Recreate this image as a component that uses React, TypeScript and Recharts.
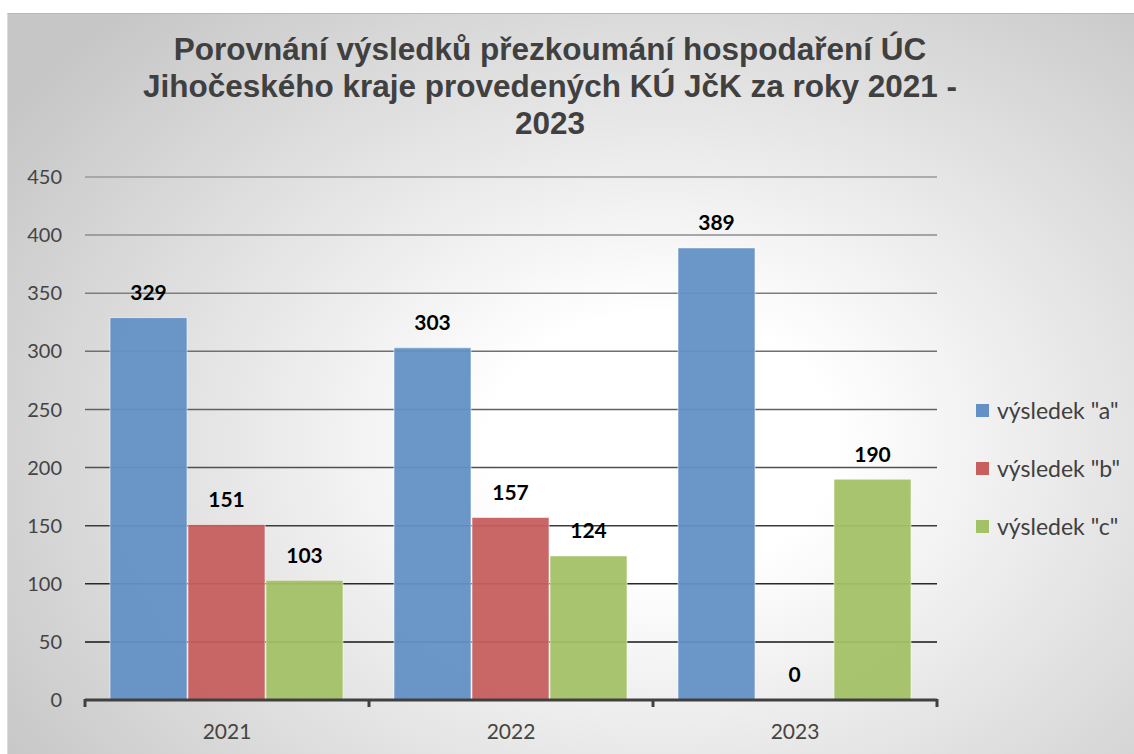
import React from "react";
import {
  BarChart,
  Bar,
  XAxis,
  YAxis,
  CartesianGrid,
  LabelList,
  ReferenceLine,
} from "recharts";

// values
const years = ["2021", "2022", "2023"];
const resultA = [329, 303, 389];
const resultB = [151, 157, 0];
const resultC = [103, 124, 190];
const yTicks = [0, 50, 100, 150, 200, 250, 300, 350, 400, 450];

const titleLines = [
  "Porovnání výsledků přezkoumání hospodaření ÚC",
  "Jihočeského kraje provedených KÚ JčK za roky 2021 -",
  "2023",
];

const seriesNames = ['výsledek "a"', 'výsledek "b"', 'výsledek "c"'];
const seriesKeys = ["a", "b", "c"];
const colors = ["#6390c5", "#c65f5e", "#a3c167"];

const data = years.map((year, i) => ({
  year,
  a: resultA[i],
  b: resultB[i],
  c: resultC[i],
}));

const FONT = "Lato, 'Open Sans', sans-serif";
const AXIS = "#404040";

// bold value above each bar
const renderValue = (props: any) => {
  const vb = props.viewBox ?? props;
  const x = vb.x + vb.width / 2;
  const y = vb.y + Math.min(vb.height, 0) - 26;
  return (
    <text
      x={x}
      y={y}
      textAnchor="middle"
      dominantBaseline="central"
      fontFamily={FONT}
      fontWeight={700}
      fontSize={21}
      fill="#000"
    >
      {String(props.value)}
    </text>
  );
};

// year label plus the tick marks on the category edges
const YearTick = (props: any) => {
  const { x, y, payload, index, visibleTicksCount, width } = props;
  const half = payload.offset ?? width / (2 * visibleTicksCount);
  const last = index === visibleTicksCount - 1;
  return (
    <g>
      <line x1={x - half} y1={y - 1} x2={x - half} y2={y + 7} stroke={AXIS} strokeWidth={3} />
      {last && <line x1={x + half} y1={y - 1} x2={x + half} y2={y + 7} stroke={AXIS} strokeWidth={3} />}
      <text
        x={x}
        y={y + 30}
        textAnchor="middle"
        dominantBaseline="central"
        fontFamily={FONT}
        fontSize={21}
        fill="#444"
      >
        {payload.value}
      </text>
    </g>
  );
};

const App: React.FC = () => {
  return (
    <div style={{ position: "absolute", left: 0, top: 0, width: 1134, height: 754, background: "#fff", overflow: "hidden" }}>
      <svg width={0} height={0} style={{ position: "absolute" }}>
        <defs>
          <linearGradient id="gridGrad" gradientUnits="userSpaceOnUse" x1={0} y1={177} x2={0} y2={700}>
            <stop offset="0%" stopColor="#9a9a9a" />
            <stop offset="50%" stopColor="#5a5a5a" />
            <stop offset="100%" stopColor="#000" />
          </linearGradient>
        </defs>
      </svg>
      <div
        style={{
          position: "absolute",
          left: 7,
          top: 13,
          width: 1127,
          height: 741,
          borderTop: "1px solid #b8b8b8",
          borderLeft: "1px solid #dcdcdc",
          background:
            "radial-gradient(ellipse 70% 80% at 58% 58%, #ffffff 0%, #ffffff 22%, #c6c6c6 100%)",
        }}
      />
      <div
        style={{
          position: "absolute",
          left: 0,
          top: 31,
          width: 1100,
          textAlign: "center",
          fontFamily: "'Liberation Sans', Arial, sans-serif",
          fontWeight: 700,
          fontSize: 31.5,
          lineHeight: "37px",
          color: "#404040",
          whiteSpace: "nowrap",
        }}
      >
        {titleLines.map((line) => (
          <div key={line}>{line}</div>
        ))}
      </div>
      <div style={{ position: "absolute", left: 0, top: 0 }}>
        <BarChart
          width={1134}
          height={754}
          data={data}
          margin={{ top: 177, right: 197, bottom: 0, left: 0 }}
          barCategoryGap={25}
          barGap={1}
        >
          <CartesianGrid vertical={false} stroke="url(#gridGrad)" strokeWidth={1.5} />
          <XAxis
            dataKey="year"
            height={54}
            tickLine={false}
            tickSize={0}
            tickMargin={0}
            axisLine={false}
            tick={<YearTick />}
          />
          <YAxis
            width={85}
            domain={[0, 450]}
            ticks={yTicks}
            axisLine={false}
            tickLine={false}
            tickSize={0}
            tickMargin={23}
            tick={{ fill: "#444", fontSize: 20, fontFamily: FONT }}
          />
          {seriesKeys.map((key, i) => (
            <Bar
              key={key}
              dataKey={key}
              name={seriesNames[i]}
              fill={colors[i]}
              fillOpacity={0.95}
              stroke="rgba(255,255,255,0.55)"
              strokeWidth={1}
              minPointSize={0.01}
              isAnimationActive={false}
            >
              <LabelList dataKey={key} content={renderValue} />
            </Bar>
          ))}
          <ReferenceLine y={0} stroke={AXIS} strokeWidth={3} />
        </BarChart>
      </div>
      <div style={{ position: "absolute", left: 976, top: 396, fontFamily: FONT, fontSize: 23, color: "#404040" }}>
        {seriesNames.map((name, i) => (
          <div key={name} style={{ display: "flex", alignItems: "center", height: 28, marginBottom: 30 }}>
            <span style={{ display: "inline-block", width: 13, height: 13, background: colors[i], marginRight: 8 }} />
            <span>{name}</span>
          </div>
        ))}
      </div>
    </div>
  );
};

export default App;
